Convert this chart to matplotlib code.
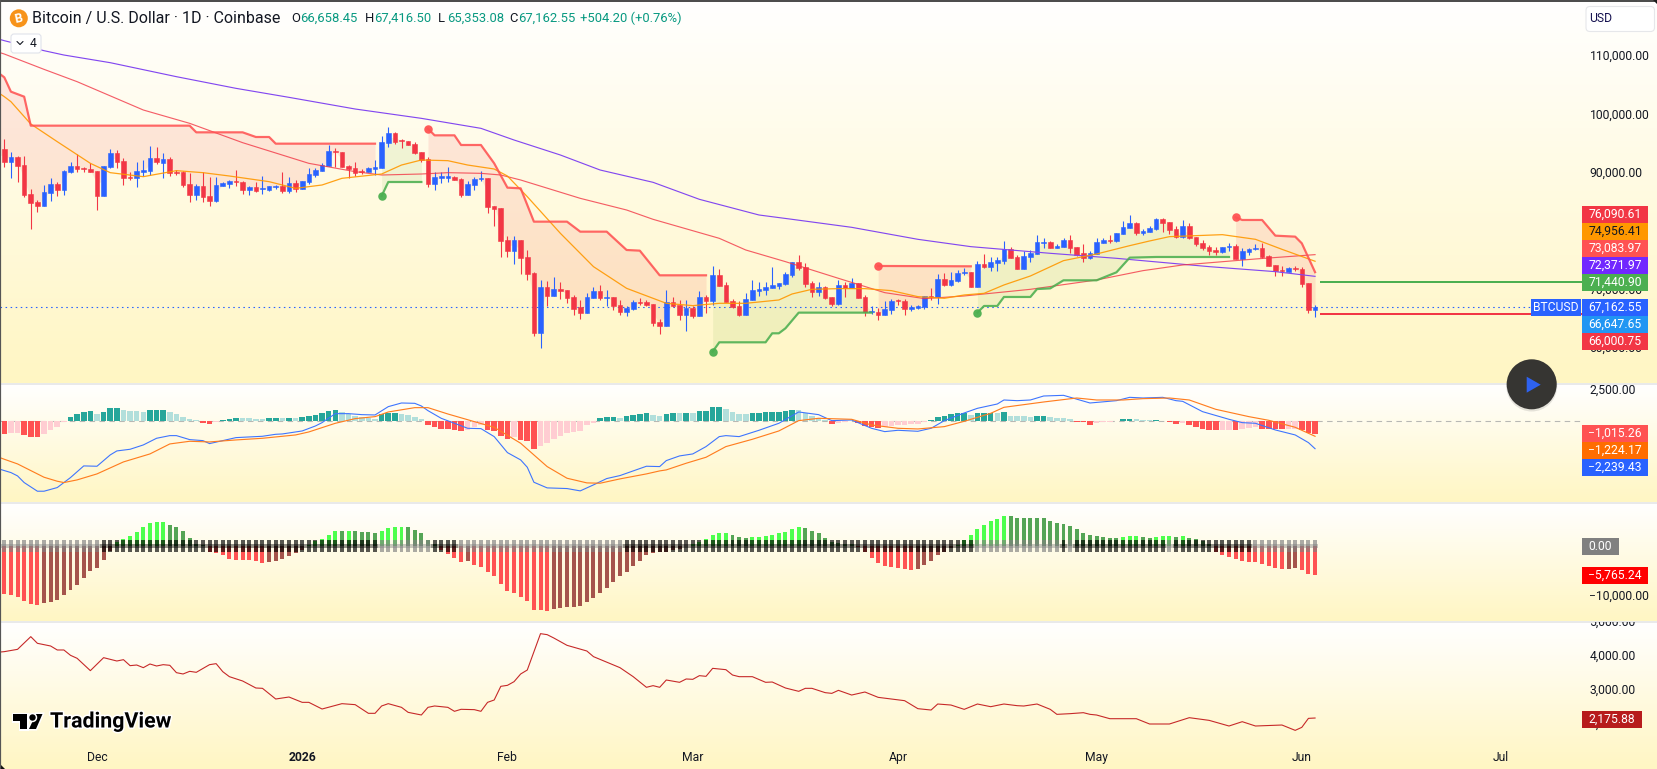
import numpy as np
import matplotlib
matplotlib.use('Agg')
import matplotlib.pyplot as plt
import matplotlib.patheffects as pe
from matplotlib.colors import LinearSegmentedColormap
from matplotlib.patches import Rectangle, FancyBboxPatch, Circle, Polygon
from matplotlib.ticker import FuncFormatter
from matplotlib.transforms import Bbox, TransformedBbox

plt.rcParams['font.family'] = ['Roboto', 'DejaVu Sans']

# daily candles
opens = [94179,92010,92809,91440,86475,85105,84477,86703,88130,87216,
    90241,91268,90926,90755,90412,86189,91097,93494,92124,89385,
    89157,90298,90470,92638,91725,92467,90184,90298,88187,86303,
    87844,86132,85276,87901,88187,88757,88586,87159,87673,87273,
    87159,87616,87844,86988,88301,87388,88529,89728,90470,91268,
    93837,93665,91211,90926,90412,90241,90812,90926,95263,96918,
    95663,95548,95035,93665,92467,88187,89214,89271,89328,89043,
    86304,88073,89043,89214,84420,84078,78599,76773,78599,75632,
    72949,62734,70552,69011,70210,69981,68840,67128,66101,68669,
    69868,68726,68840,67470,66272,66843,68041,67984,67641,64560,
    63875,67984,67470,65758,66957,65587,68840,68155,72607,70895,
    68155,67300,65758,68327,69924,70039,70381,70724,71066,72607,
    74832,73977,71237,69696,70552,68840,67641,70895,70381,71237,
    68840,66272,66272,65758,66615,68327,68156,66786,66900,67129,
    69069,68841,71923,70895,71580,72950,73121,70610,74491,73977,
    74662,75004,77059,75689,73634,75689,76203,78086,78257,77230,
    77401,78600,77401,76317,75461,76203,78086,78600,78428,79627,
    80654,81510,79798,79969,80483,82195,81681,80483,79113,80997,
    79113,78086,77401,76888,76545,77401,77572,75347,76545,77059,
    77230,75860,74320,73463,73121,73806,73634,71238,66658.45]
highs = [95891,93608,93038,92981,87331,85390,88015,89214,88586,90584,
    91896,93266,91097,91839,90412,91268,94179,94008,92581,90298,
    91896,92296,94636,94464,93437,92752,90584,90470,90013,88130,
    90184,89328,89328,88472,88871,90584,88700,87901,88529,89557,
    87844,88015,90241,89328,88871,88700,90926,90983,91782,94864,
    94293,93665,91497,91953,90755,91097,92296,96405,98003,97147,
    95834,95548,95434,93665,92809,90184,90298,91040,89614,89157,
    88758,89328,90413,89214,84420,84078,79284,79284,78599,76887,
    73064,71751,71580,72264,71408,69981,69125,68327,69468,70552,
    70895,69982,68840,68327,67300,68327,68669,68327,67641,65073,
    70039,68840,68327,68327,67300,69868,69183,74148,73634,71408,
    68498,68155,69468,71694,71408,71408,73976,71237,73064,74832,
    76031,74662,71580,71408,70724,68840,71751,71408,72093,71237,
    69183,67300,66899,68155,68498,68498,68498,67471,67471,69012,
    70381,72778,72950,73121,73463,73806,73121,75004,76203,75689,
    75689,78428,77401,76032,76716,76888,79456,78942,78428,77915,
    78942,79456,77401,77915,76716,78942,78942,79456,79798,81853,
    82880,81681,80483,80997,82366,82366,81681,80997,82024,81510,
    79113,78600,77744,77401,77401,78086,77915,77230,77230,77915,
    78086,76032,74320,74148,73977,74148,73977,71238,67416.50]
lows = [91154,89271,88472,86018,80482,83450,84477,85276,86132,86360,
    90070,90298,90241,90184,83792,86189,90983,90983,88015,88871,
    87673,89557,89728,91554,89271,89557,89728,87673,85105,85390,
    85162,84420,85105,87787,87502,87844,86475,86303,86817,86475,
    87045,87331,86646,86703,86874,87388,88130,89442,90412,91268,
    91097,91040,89157,89557,89842,90184,89728,90926,94521,95035,
    94293,94864,93380,92010,87730,87159,88415,88586,88872,86018,
    86304,87160,88758,83279,81053,75746,75746,74490,72778,71751,
    62220,60166,67300,69011,68498,67870,65815,65131,66101,68669,
    68327,67300,66614,65701,65587,66614,67527,67300,63875,62505,
    63875,67128,64902,63019,65187,65587,66044,67470,70724,67927,
    66957,65644,65758,68327,69011,69183,70324,70210,70895,72265,
    73463,70552,68840,69011,68498,67300,67470,68840,70381,68669,
    65587,65929,64902,65758,65930,67471,65759,66444,66786,66786,
    68327,67642,70724,70724,71409,72607,70610,70610,73806,73292,
    73292,74491,75518,73634,73634,74833,76203,77230,77230,77230,
    77401,76374,75860,74833,75347,76203,78086,78086,78257,79627,
    80654,79456,79456,79969,80312,79969,79627,78942,78942,78771,
    77572,76888,76032,76032,76374,76716,75347,74148,76032,76888,
    75518,74148,72436,72436,73121,73292,70553,66044,65353.08]
closes = [92010,92809,91325,86303,84877,84420,86817,88187,87216,90412,
    91268,90812,90698,90298,86189,91268,93494,92010,89271,89271,
    90412,90584,92638,91896,92410,90127,90070,88072,86360,87844,
    86018,85333,88015,88358,88700,88586,87159,87673,87045,87445,
    87844,87787,87045,88301,87331,88700,89899,90584,91440,93837,
    93722,91154,90698,90127,90241,90926,91154,95377,96918,95434,
    95492,94864,93551,92296,88187,89385,89499,89499,88872,86304,
    88187,89043,89271,84306,83907,78485,76773,78599,75575,72778,
    62677,70552,69068,70210,69924,68669,66843,66158,68840,69868,
    68669,68897,67356,66272,66957,67984,67870,67470,64446,63875,
    67984,67356,65758,66957,65587,68840,68155,72607,70724,67927,
    67128,65758,68498,70039,70210,70552,70895,71237,72778,74832,
    73863,71066,69696,70552,68669,67641,70895,70324,71237,68669,
    66272,66443,65758,66786,68156,68099,66786,67129,67300,69012,
    68841,71923,70895,71751,72950,73121,70610,74491,73977,74833,
    75175,77059,75518,73634,75860,76374,78257,78257,77230,77572,
    78600,77230,76032,75518,76374,78257,78600,78428,79798,80825,
    81510,79798,80141,80654,82195,81510,80312,79113,80997,78942,
    77915,77230,76716,76545,77401,77572,75347,76716,77059,77230,
    75689,74148,73292,73292,73806,73634,71066,66658.35,67162.55]

# moving averages, sampled at bar numbers
ema200_bars = [-1,0,6,9,16,26,35,43,53,63,72,77,84,90,98,105,114,119,128,138,146,158,168,182,192,198]
ema200 = [113050,112726,111013,110272,108959,106562,104564,103024,101026,99428,97716,95719,93150,90582,88472,85561,82879,82137,80767,78713,77457,76316,75460,74033,73177,72371.97]
ema100_bars = [-1,0,6,11,21,28,36,46,53,57,63,67,72,75,78,87,94,98,108,112,118,126,133,139,145,155,165,172,178,189,198]
ema100 = [110800,110443,107817,105706,100855,98572,95262,91724,90297,89726,89897,90126,90012,89726,88870,85731,83734,82137,78884,76886,74889,72035,69581,68554,69011,70152,71750,73348,74318,75346,76090.61]
ema20_bars = [-1,0,1,4,8,13,16,21,26,30,34,40,44,48,51,57,60,63,67,70,74,76,79,84,89,94,100,104,108,112,117,119,122,126,130,134,138,142,145,148,151,155,160,165,170,173,176,184,189,193,198]
ema20 = [103900,103138,102282,98458,95433,91724,90126,89441,90469,90126,89555,88585,87444,88015,89156,89897,91433,92294,92180,91433,90753,89555,86017,79739,74032,70323,67755,67356,67755,67755,68326,69353,70154,70268,70268,69925,68897,68612,69182,69467,70894,72435,75060,76202,77628,78427,79169,79511,78713,77001,74956.41]

# trend stop line, one run per trend
stop_down_bars = [[-1,0,1,3,4,28,29,36,38,40,41,56],
    [64,65,68,69,72,74,76,78,80,85,87,91,94,96,99,106],
    [132,146],
    [186,187,190,192,195,196,198]]
stop_down = [[107300,106448,103994,103138,98173,98173,97031,97031,96232,96232,95091,95091],
    [97659,96518,96518,94863,94863,91724,87558,87444,81736,81736,80024,80024,76885,76771,72548,72548],
    [74148,74090],
    [82479,82023,82023,79340,79169,78027,73083.97]]
stop_up_bars = [[57,58,63],
    [107,108,115,116,117,118,120,131],
    [147,148,150,151,155,156,158,160,165,168,170,174,185]]
stop_up = [[86131,88528,88528],
    [59479,61078,61078,62619,62619,63475,66157,66157],
    [66157,67298,67298,68840,68840,70199,70313,71693,71693,73063,75574,75688,75688]]

level_up = 71440.90
level_down = 66000.75

price_tags = [76090.61, 74956.41, 73083.97, 72371.97, 71440.90, 67162.55, 66647.65, 66000.75]
price_tag_colors = ['#f23645', '#ff9800', '#ff5252', '#7128ff', '#4caf50', '#2962ff', '#2196f3', '#f23645']

# MACD histogram, one value per bar
macd_hist = [-1034,-950,-940,-1115,-1278,-1280,-1034,-707,-462,-20,
    354,598,762,843,598,762,1088,1090,925,843,
    840,762,925,930,935,762,598,354,190,109,
    -136,-218,-54,109,190,272,270,265,190,185,
    272,275,270,275,270,354,435,517,680,843,
    925,762,598,435,354,272,190,598,680,685,
    598,517,354,190,-299,-462,-625,-630,-707,-789,
    -700,-460,-300,-707,-789,-1197,-1442,-1250,-1523,-1605,
    -2258,-2013,-1768,-1442,-1197,-952,-870,-789,-299,-136,
    272,354,358,272,435,517,598,680,517,435,
    598,680,675,680,675,843,845,1170,1175,1006,
    762,598,595,680,685,762,765,770,843,925,
    920,653,435,272,109,-218,-136,-54,54,-163,
    -381,-462,-544,-462,-381,-299,-295,-218,-215,-54,
    109,354,435,598,680,685,517,680,685,690,
    680,762,435,430,425,354,435,440,354,272,
    270,190,-30,-82,-272,-163,-82,-80,54,190,
    195,163,109,80,109,54,-54,-218,-109,-299,
    -462,-625,-707,-710,-700,-695,-715,-625,-544,-462,
    -625,-630,-635,-640,-625,-620,-707,-952,-1015.26]
macd_bars = [-1,0,1,2,3,5,6,8,10,12,14,16,17,19,21,23,25,26,28,30,31,33,35,37,39,41,42,45,47,48,50,52,54,56,58,60,62,63,64,66,68,70,72,74,76,78,79,80,82,85,87,89,91,93,97,99,
    100,102,104,106,108,109,111,114,117,120,123,125,128,131,133,135,138,140,142,145,147,150,151,153,155,157,160,164,168,170,172,175,177,178,181,185,187,189,192,195,197,198]
macd_line = [-3860,-4026,-4189,-4461,-5005,-5712,-5712,-5413,-4597,-3645,-3672,-2747,-2421,-2285,-1931,-1387,-1170,-1170,-1496,-1578,-1822,-1578,-1333,-1278,-1224,-1061,-1034,-789,-381,-109,626,626,544,517,1197,1496,1469,1251,870,245,-163,-571,-598,-1251,-2557,-3155,-3754,-4978,-5440,-5494,-5685,-5195,-4678,-4434,-3672,-3699,
    -3210,-2829,-2666,-2067,-1251,-1170,-1251,-734,-163,762,544,54,109,-571,-843,-734,-816,-571,54,680,1061,1414,1741,1686,1741,2067,2122,1496,1686,1958,1904,1958,1686,1632,789,163,-109,-163,-707,-1115,-1741,-2239.43]
signal_bars = [-1,0,2,4,6,8,9,11,14,18,22,25,28,31,35,39,44,46,50,53,56,58,62,64,67,71,74,78,82,85,88,90,93,97,99,
    100,103,106,109,113,117,120,123,128,131,135,138,142,145,149,151,157,162,165,169,172,176,179,183,188,191,195,198]
signal_line = [-2900,-3101,-3482,-4026,-4570,-4896,-5005,-4787,-4298,-3318,-2666,-1850,-1632,-1686,-1523,-1387,-1115,-870,-163,218,381,762,1115,1115,598,-27,-490,-1795,-3699,-4651,-5032,-5059,-4706,-4298,-4053,
    -3971,-3427,-2938,-2067,-1469,-789,54,245,163,-299,-571,-626,-435,0,653,1142,1578,1904,1741,1741,1850,1904,1741,979,381,82,-490,-1224.17]

# momentum histogram, one value per bar
momentum = [-9680,-9875,-10270,-11050,-11640,-11840,-11380,-11250,-10860,-9875,
    -8700,-7720,-6340,-4970,-4380,-2810,-980,780,1500,2090,
    2880,3730,4640,4840,4860,4250,3860,3070,1700,460,
    130,-1180,-1370,-1830,-2620,-2810,-2820,-2830,-3070,-3400,
    -3200,-3010,-2620,-2030,-1370,-850,130,920,1500,2290,
    3070,3060,3080,3070,2880,2870,2680,3070,3660,3860,
    3870,3865,3270,2680,1110,330,-850,-1640,-2420,-3200,
    -3010,-3790,-4190,-5100,-6080,-7520,-9090,-9480,-10270,-11050,
    -12820,-12830,-13010,-12620,-12430,-12230,-12220,-12030,-11250,-10460,
    -9480,-8310,-7130,-6080,-5170,-3990,-3010,-1830,-1370,-1180,
    -1170,-850,-520,20,330,850,1500,2290,2680,2690,
    2290,1900,1700,1710,1720,2090,2290,2680,2880,3470,
    3860,3660,3070,2680,1700,850,590,460,330,-200,
    -1180,-2350,-3340,-3990,-4190,-4380,-4580,-4770,-4510,-3790,
    -3010,-1830,-1240,-390,130,1110,2290,3470,4250,5040,
    5490,6020,6010,5620,5610,5600,5590,5580,5040,4640,
    4450,4050,3470,2680,2290,2090,1900,1700,1690,1900,
    2090,2100,1900,1700,1900,2090,2100,1900,1910,1700,
    1310,920,460,-1180,-1770,-2220,-2620,-3010,-3200,-3210,
    -3590,-3990,-4380,-4580,-4570,-4380,-4770,-5550,-5765.24]
# bars where the squeeze marker is grey rather than black
squeeze_off_runs = [(0,15),(57,65),(69,94),(147,160),(161,162),(176,177),(189,199)]

# volatility line
atr_bars = [-1,0,2,4,5,7,8,9,10,11,13,15,17,18,19,20,21,22,23,24,25,26,27,28,29,31,32,33,34,36,38,39,41,43,45,46,48,51,53,55,56,57,58,60,61,63,64,65,67,68,69,71,72,73,74,75,76,77,78,79,81,82,83,85,88,89,93,95,97,98,99,100,102,103,104,105,106,107,109,110,111,113,115,116,118,120,121,122,124,
    125,126,128,130,132,134,136,138,140,141,143,145,147,149,151,153,154,156,158,159,161,163,164,165,167,171,173,176,179,182,185,187,189,193,195,196,197,198]
atr = [4110,4128,4196,4569,4373,4294,4177,4177,4020,3932,3569,3951,3853,3892,3716,3735,3657,3765,3706,3745,3726,3510,3471,3549,3520,3745,3775,3539,3392,3265,3059,3049,2735,2794,2637,2637,2441,2598,2569,2314,2314,2530,2598,2490,2343,2265,2490,2530,2490,2373,2432,2422,2373,2637,2706,3108,3137,3245,3471,3588,4657,4628,4530,4314,4147,3981,3657,3392,3079,3128,3079,3294,3226,3324,3314,3422,3402,3637,3598,3441,3392,3392,3226,3235,3059,2961,3049,3049,2922,
    2901,2990,2852,2941,2784,2735,2686,2451,2411,2588,2558,2431,2588,2509,2588,2539,2529,2588,2431,2284,2304,2333,2284,2264,2156,2156,2000,2000,2186,2107,1941,2068,1941,1970,1813,1902,2166,2175.88]

month_bars = [14, 45, 76, 104, 135, 165, 196, 226]
month_labels = ['Dec', '2026', 'Feb', 'Mar', 'Apr', 'May', 'Jun', 'Jul']

header = 'Bitcoin / U.S. Dollar · 1D · Coinbase'
WIDTH, HEIGHT = 1658, 769
PX = 0.72  # one pixel in points at dpi 100
AXIS_X = 1582
BAR_STEP = 6.62
BAR_ZERO = 4.3
UP, DOWN = '#2962ff', '#f23645'
INK = '#131722'
bars = np.arange(len(closes))

fig = plt.figure(figsize=(WIDTH / 100, HEIGHT / 100), dpi=100)

# pane backgrounds
bg = fig.add_axes([0, 0, 1, 1], zorder=0)
bg.set_xlim(0, WIDTH)
bg.set_ylim(HEIGHT, 0)
bg.axis('off')
cream = LinearSegmentedColormap.from_list('cream', ['#ffffff', '#fff6c3'])
ramp = np.linspace(0, 1, 256).reshape(-1, 1)
for top, bottom in [(0, 383), (384, 502), (503, 621), (622, 769)]:
    bg.imshow(ramp, extent=(0, WIDTH, bottom, top), aspect='auto', cmap=cream)
    if bottom < HEIGHT:
        bg.axhline(bottom + 0.5, color='#e4e5e6', lw=1.6 * PX)
bg.set_xlim(0, WIDTH)
bg.set_ylim(HEIGHT, 0)


def money(v, pos=None):
    return f'{v:,.2f}'.replace('-', '\u2212')


def pane(top, bottom, ref_px, ref_val, px_per_unit, ticks):
    h = bottom - top
    ax = fig.add_axes([0, 1 - bottom / HEIGHT, AXIS_X / WIDTH, h / HEIGHT], zorder=1)
    ax.patch.set_alpha(0)
    ax.set_xlim(-BAR_ZERO / BAR_STEP, (AXIS_X - BAR_ZERO) / BAR_STEP)
    ax.set_ylim(ref_val - (bottom - ref_px) / px_per_unit, ref_val + (ref_px - top) / px_per_unit)
    for s in ax.spines.values():
        s.set_visible(False)
    ax.yaxis.tick_right()
    ax.set_yticks(ticks)
    ax.yaxis.set_major_formatter(FuncFormatter(money))
    ax.tick_params(axis='y', length=0, pad=7.5 * PX, labelsize=8.7, labelcolor=INK)
    for lab in ax.get_yticklabels():
        lab.set_verticalalignment('center')
    ax.set_xticks([])
    return ax


main = pane(1, 383, 115, 100000, 58.4 / 10000, [110000, 100000, 90000, 80000, 70000, 60000])
macd = pane(384, 502, 421.3, 0, 0.01224, [2500])
mom = pane(503, 621, 546, 0, 0.005, [-10000])
vol = pane(622, 769, 690, 3000, 0.034, [5000, 4000, 3000, 2000])

# main pane: trend fills, candles, averages
o, h, l, c = map(np.array, (opens, highs, lows, closes))
mid = (o + c) / 2
for idx, vals, col, fill in [(stop_down_bars, stop_down, '#ff5252', '#f23645'), (stop_up_bars, stop_up, '#4caf50', '#7cb342')]:
    for b, v in zip(idx, vals):
        span = np.arange(b[0], b[-1] + 1)
        main.fill_between(span, np.interp(span, b, v), mid[np.maximum(span, 0)], color=fill, alpha=0.11, lw=0, zorder=1)
        main.plot(b, v, color=col, lw=2.2 * PX, alpha=0.88, zorder=4, solid_joinstyle='round')
        if b[0] >= 0:
            main.plot(b[0], v[0], 'o', color=col, ms=8.5 * PX, mew=0, alpha=0.95, zorder=4)

rising = c >= o
cols = np.where(rising, UP, DOWN)
main.vlines(bars, l, h, colors=cols, lw=1.1 * PX, zorder=2)
main.bar(bars, np.abs(c - o), bottom=np.minimum(o, c), width=0.7, color=cols, edgecolor=cols, lw=0.4, zorder=2)

main.plot(ema200_bars, ema200, color='#8247f0', lw=1.15 * PX, zorder=3)
main.plot(ema100_bars, ema100, color='#f23645', lw=1.15 * PX, alpha=0.8, zorder=3)
main.plot(ema20_bars, ema20, color='#ff9800', lw=1.25 * PX, alpha=0.9, zorder=3)

main.axhline(closes[-1], color=UP, lw=1.1 * PX, ls=(0, (1.4, 3.2)), zorder=1.5)
main.hlines(level_up, 198.8, 239, color='#4caf50', lw=2 * PX, zorder=3)
main.hlines(level_down, 198.8, 239, color=DOWN, lw=2 * PX, zorder=3)

# MACD pane
hist = np.array(macd_hist)
prev = np.r_[hist[0] + 1, hist[:-1]]
hist_cols = np.where(hist >= 0, np.where(hist >= prev, '#26a69a', '#b2dfdb'), np.where(hist >= prev, '#ffcdd2', '#ff5252'))
macd.axhline(0, color='#b8b8b4', lw=1.1 * PX, ls=(0, (5, 4)), zorder=1)
macd.bar(bars, hist, width=0.84, color=hist_cols, zorder=2)
macd.plot(macd_bars, macd_line, color='#3d74ff', lw=1.1 * PX, zorder=3)
macd.plot(signal_bars, signal_line, color='#ff7d1f', lw=1.15 * PX, zorder=3)

# momentum pane
m = np.array(momentum)
prev_m = np.r_[m[0] + 1, m[:-1]]
mom_cols = np.where(m >= 0, np.where(m >= prev_m, '#4dff4d', '#55a555'), np.where(m < prev_m, '#ff5252', '#a5544c'))
mom.bar(bars, m, width=0.6, color=mom_cols, zorder=2)
squeeze_off = np.zeros(len(bars), bool)
for a, b in squeeze_off_runs:
    squeeze_off[a:b] = True
cross_cols = np.where(squeeze_off, '#808080', '#000000')
arm = 12 / 0.005
band = 3.6 / 0.005
mom.bar(bars, arm, bottom=-arm / 2, width=0.6, color=cross_cols, alpha=0.66, lw=0, zorder=3)
mom.bar(bars, band, bottom=-band / 2, width=1.0, color=cross_cols, alpha=0.42, lw=0, zorder=3)

# volatility pane
vol.plot(atr_bars, atr, color='#c62828', lw=1.1 * PX, zorder=2)
vol.set_xticks(month_bars)
vol.set_xticklabels(month_labels)
vol.tick_params(axis='x', length=0, pad=-13.3, labelsize=8.7, labelcolor=INK)
vol.get_xticklabels()[1].set_fontweight('bold')
for lab in vol.get_yticklabels():
    lab.set_clip_box(TransformedBbox(Bbox([[0, 0], [1, 1 - 622 / HEIGHT]]), fig.transFigure))
    lab.set_clip_on(True)

# overlay drawn in pixel coordinates: axis tags, header, buttons, logo
ov = fig.add_axes([0, 0, 1, 1], zorder=5)
ov.patch.set_alpha(0)
ov.set_xlim(0, WIDTH)
ov.set_ylim(HEIGHT, 0)
ov.axis('off')


def tag(x0, x1, y0, y1, text, col, ink='white', size=8.7):
    ov.add_patch(Rectangle((x0, y0), x1 - x0, y1 - y0, color=col, lw=0))
    ov.text((x0 + x1) / 2, (y0 + y1) / 2 - 0.3, text, color=ink, fontsize=size, ha='center', va='center')


slots = [206, 223, 240, 257, 274, 299, 316, 333]
for value, col, y0 in zip(price_tags, price_tag_colors, slots):
    tag(AXIS_X, 1648, y0, y0 + 17, money(value), col, INK if col == '#ff9800' else 'white')
tag(1531, 1581, 299, 316, 'BTCUSD', UP)
for value, col, y0 in zip([macd_hist[-1], signal_line[-1], macd_line[-1]], ['#ff5252', '#ff6d00', '#2962ff'], [425, 442, 459]):
    tag(AXIS_X, 1648, y0, y0 + 17, money(value), col)
tag(AXIS_X, 1619, 538, 555, '0.00', '#808080')
tag(AXIS_X, 1648, 567, 584, money(momentum[-1]), '#ff0000')
tag(AXIS_X, 1642, 711, 728, money(atr[-1]), '#b71c1c')

# symbol header
ov.add_patch(Circle((18.8, 18.3), 9, color='#f7931a', lw=0))
ov.text(18.8, 18.3, 'B', color='white', fontsize=9, fontweight='bold', ha='center', va='center', rotation=12)
ov.text(32, 18.3, header, color=INK, fontsize=11.55, va='center', ha='left')
ohlc_x = [291, 365, 438, 509]
for x, key, value in zip(ohlc_x, 'OHLC', (opens[-1], highs[-1], lows[-1], closes[-1])):
    ov.text(x, 18.3, key, color=INK, fontsize=9.4, va='center')
    ov.text(x + 9.5, 18.3, f'{value:,.2f}', color='#089981', fontsize=9.4, va='center')
change = closes[-1] - closes[-2]
ov.text(580, 18.3, f'+{change:,.2f} (+{change / closes[-2] * 100:.2f}%)', color='#089981', fontsize=9.4, va='center')

# collapsed legend button and currency button
ov.add_patch(FancyBboxPatch((11, 34), 30, 19, boxstyle='round,pad=0,rounding_size=3', fc='white', ec='#e0e3eb', lw=0.8))
ov.plot([17, 20, 23], [41.5, 44.5, 41.5], color=INK, lw=0.8, solid_capstyle='round')
ov.text(33.5, 43.5, '4', color=INK, fontsize=8.7, ha='center', va='center')
ov.add_patch(FancyBboxPatch((1586, 6.5), 68.5, 25, boxstyle='round,pad=0,rounding_size=4', fc='white', ec='#e6e7ea', lw=0.8))
ov.text(1589.5, 19, 'USD', color='#14104f', fontsize=8.7, va='center')

# play button
ov.add_patch(Circle((1531.7, 386), 25.5, color='#000000', alpha=0.10, lw=0))
ov.add_patch(Circle((1531.7, 384.3), 25, color='#363532', lw=0))
ov.add_patch(Polygon([(1526.7, 376.7), (1526.7, 392.7), (1540.7, 384.7)], color='#2e62f0', lw=0))

# brand mark
halo = [pe.withStroke(linewidth=2.2, foreground='white')]
for shape in (Polygon([(13, 714), (27, 714), (27, 729), (20, 729), (20, 721), (13, 721)], color='black', lw=0),
              Polygon([(36, 714), (42.5, 714), (36, 729), (29, 729)], color='black', lw=0),
              Circle((32.5, 717.5), 3.2, color='black', lw=0)):
    shape.set_path_effects(halo)
    ov.add_patch(shape)
ov.text(50, 722, 'TradingView', color='black', fontsize=15.4, fontweight='bold', va='center', path_effects=halo)

# window edge and rounded corners
ov.plot([0, WIDTH], [0.5, 0.5], color='#222222', lw=1.6 * PX)
ov.plot([0.5, 0.5], [0, HEIGHT], color='#555555', lw=1.2 * PX)
ov.add_patch(Polygon([(WIDTH - 5, 0), (WIDTH, 0), (WIDTH, 5)], color='#111111', lw=0))
ov.add_patch(Polygon([(0, HEIGHT - 5), (0, HEIGHT), (5, HEIGHT)], color='#111111', lw=0))

fig.savefig('out.png', dpi=100)
